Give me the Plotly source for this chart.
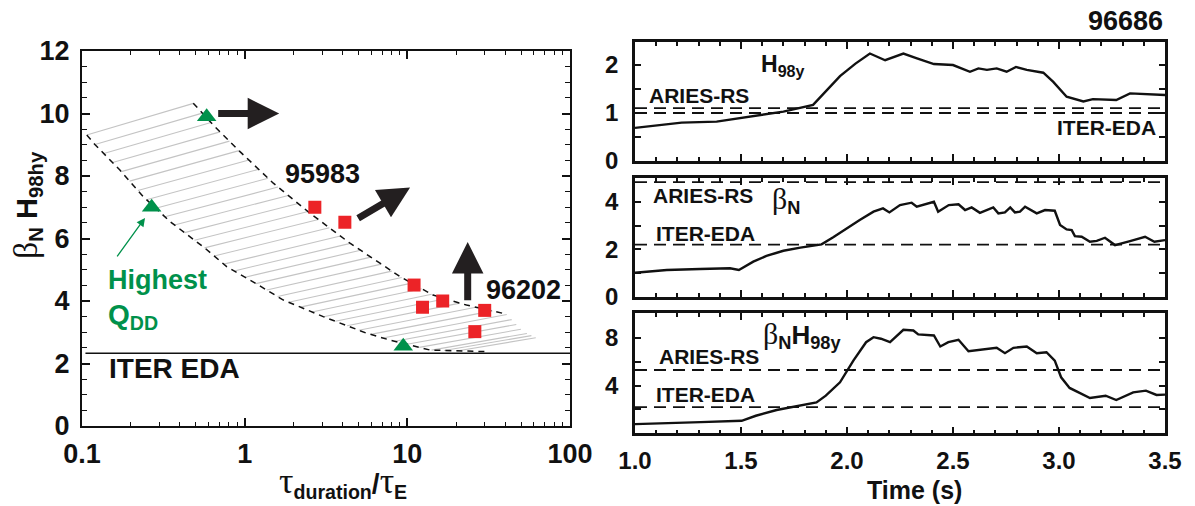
import numpy as np
import plotly.graph_objects as go

# ---------------- operating space: beta_N*H98 vs pulse length ----------------
tri_x = [0.584, 0.268, 9.44]                      # green triangles
tri_y = [9.9, 7.0, 2.55]
sq_x = [2.70, 4.13, 11.0, 12.4, 16.5, 29.9, 26.0]  # red squares
sq_y = [7.0, 6.52, 4.51, 3.80, 4.0, 3.70, 3.02]
iter_eda_level = 2.33

# lower / upper edges of the hatched band
edge_lo_x = [0.107, 0.120, 0.171, 0.238, 0.348, 0.570, 0.775, 1.08, 1.73, 3.04, 5.62, 7.82, 13.8, 20.1, 30.7]
edge_lo_y = [9.31, 9.01, 8.19, 7.34, 6.54, 5.69, 5.10, 4.67, 4.03, 3.50, 2.97, 2.75, 2.43, 2.40, 2.38]
edge_hi_x = [0.483, 0.641, 0.936, 1.50, 2.52, 4.44, 9.02, 14.4, 23.1, 40.7]
edge_hi_y = [10.33, 9.63, 8.78, 7.77, 6.81, 5.85, 4.78, 4.19, 3.87, 3.58]
band_tail_x = [51.5, 62.3]
band_tail_y = [3.02, 2.81]

# trend arrows (tail -> head)
arrow_tail_x = [0.673, 4.88, 23.5]
arrow_tail_y = [10.0, 6.62, 3.98]
arrow_head_x = [1.63, 10.4, 23.5]
arrow_head_y = [10.0, 7.63, 5.89]

# ---------------- discharge 96686 time traces ----------------
t_h98 = [1.0, 1.15, 1.22, 1.385, 1.54, 1.70, 1.84, 1.904, 1.967, 2.04, 2.108, 2.18, 2.203, 2.266,
         2.33, 2.41, 2.50, 2.58, 2.62, 2.66, 2.706, 2.753, 2.797, 2.848, 2.926, 2.973, 3.036,
         3.115, 3.16, 3.27, 3.335, 3.5]
h98 = [0.69, 0.77, 0.80, 0.82, 0.92, 1.03, 1.17, 1.48, 1.77, 2.03, 2.24, 2.10, 2.14, 2.24,
       2.14, 2.02, 2.00, 1.86, 1.93, 1.90, 1.93, 1.86, 1.96, 1.90, 1.84, 1.65, 1.34,
       1.24, 1.29, 1.27, 1.41, 1.375]

t_bn = [1.0, 1.15, 1.307, 1.448, 1.49, 1.558, 1.62, 1.70, 1.78, 1.88, 1.935, 1.998, 2.06, 2.125,
        2.17, 2.20, 2.25, 2.305, 2.329, 2.41, 2.43, 2.48, 2.526, 2.557, 2.588, 2.627, 2.69,
        2.714, 2.745, 2.77, 2.792, 2.816, 2.84, 2.895, 2.934, 2.98, 3.005, 3.036, 3.06, 3.075,
        3.107, 3.146, 3.178, 3.217, 3.264, 3.335, 3.406, 3.45, 3.5]
bn = [1.01, 1.13, 1.17, 1.20, 1.13, 1.48, 1.72, 1.94, 2.07, 2.21, 2.51, 2.89, 3.24, 3.59,
      3.73, 3.56, 3.87, 3.97, 3.80, 4.01, 3.59, 3.87, 3.90, 3.66, 3.77, 3.54, 3.77,
      3.52, 3.56, 3.77, 3.56, 3.59, 3.80, 3.52, 3.66, 3.63, 3.03, 2.84, 2.81, 2.56,
      2.53, 2.32, 2.36, 2.49, 2.18, 2.35, 2.53, 2.32, 2.39]

t_bnh = [1.0, 1.15, 1.31, 1.503, 1.57, 1.668, 1.78, 1.856, 1.90, 1.967, 2.03, 2.09, 2.125, 2.16,
         2.203, 2.266, 2.313, 2.336, 2.41, 2.44, 2.478, 2.526, 2.573, 2.627, 2.706, 2.745, 2.785,
         2.848, 2.895, 2.941, 2.98, 3.01, 3.05, 3.146, 3.22, 3.27, 3.35, 3.41, 3.46, 3.5]
bnh = [0.77, 0.88, 0.94, 1.05, 1.47, 1.95, 2.31, 2.59, 3.15, 4.27, 6.09, 7.63, 8.05, 7.92,
       7.63, 8.67, 8.61, 8.28, 8.19, 7.27, 7.63, 7.83, 6.87, 6.99, 7.16, 6.71, 7.16,
       7.27, 6.71, 6.79, 6.09, 4.69, 3.80, 2.96, 3.15, 2.79, 3.43, 3.57, 3.21, 3.24]

aries_rs = [1.1, 4.84, 5.3]   # H98y, beta_N, beta_N*H98y
iter_eda = [1.0, 2.2, 2.2]

# ---------------- layout geometry ----------------
W, H = 1195, 506


def fx(px):
    return px / W


def fy(py):
    return 1 - py / H


L_DOM_X = [fx(82), fx(570)]
L_DOM_Y = [fy(426), fy(51)]
R_DOM_X = [fx(635), fx(1165)]
R_DOMS_Y = [[fy(161), fy(42)], [fy(296.7), fy(178.3)], [fy(433.3), fy(313.3)]]

SANS = "Liberation Sans, Arial, Helvetica, sans-serif"
SERIF = "Liberation Serif"
GREEN = "#00914b"
RED = "#ec2327"
INK = "#111111"


def greek(ch, size=None):
    style = "font-family:%s;font-weight:normal" % SERIF
    if size:
        style += ";font-size:%dpx" % size
    return '<span style="%s">%s</span>' % (style, ch)


# ---------------- hatching of the band ----------------
dec_px = (L_DOM_X[1] - L_DOM_X[0]) * W / 3.0
unit_px = (L_DOM_Y[1] - L_DOM_Y[0]) * H / 12.0
k = unit_px / dec_px  # y-units -> decade-equivalent, so the plane is isotropic in pixels


def plane(xs, ys):
    return np.log10(np.asarray(xs, float)), np.asarray(ys, float) * k


lo_X, lo_Y = plane(edge_lo_x[:-1], edge_lo_y[:-1])
up_X, up_Y = plane(edge_hi_x + band_tail_x, edge_hi_y + band_tail_y)
# extend the upper edge a little at both ends
up_X = np.concatenate([[up_X[0] - 0.3 * (up_X[1] - up_X[0])], up_X, [up_X[-1] + 0.3 * (up_X[-1] - up_X[-2])]])
up_Y = np.concatenate([[up_Y[0] - 0.3 * (up_Y[1] - up_Y[0])], up_Y, [up_Y[-1] + 0.3 * (up_Y[-1] - up_Y[-2])]])

seg = np.hypot(np.diff(lo_X), np.diff(lo_Y))
arc = np.concatenate([[0], np.cumsum(seg)]) / seg.sum()

n_lines = 36
slope_first, slope_last = 0.297, 0.167
hx, hy = [], []
for s in np.linspace(0, 1, n_lines):
    px0 = np.interp(s, arc, lo_X)
    py0 = np.interp(s, arc, lo_Y)
    m = slope_first + (slope_last - slope_first) * s
    d = np.array([1.0, m])
    hit = None
    for i in range(len(up_X) - 1):
        a = np.array([up_X[i], up_Y[i]])
        b = np.array([up_X[i + 1], up_Y[i + 1]])
        M = np.array([[d[0], a[0] - b[0]], [d[1], a[1] - b[1]]])
        if abs(np.linalg.det(M)) < 1e-12:
            continue
        tt, ss = np.linalg.solve(M, a - np.array([px0, py0]))
        if tt > 0 and -1e-9 <= ss <= 1 + 1e-9:
            hit = (px0 + tt, py0 + tt * m)
            break
    if hit is None:
        continue
    hx += [10 ** px0, 10 ** hit[0], None]
    hy += [py0 / k, hit[1] / k, None]

fig = go.Figure()

fig.add_trace(go.Scatter(x=hx, y=hy, mode="lines", line=dict(color="#c4c4c4", width=1.1),
                         hoverinfo="skip", showlegend=False))
fig.add_trace(go.Scatter(x=edge_lo_x, y=edge_lo_y, mode="lines", line=dict(color=INK, width=1.5, dash="6px,5px"),
                         showlegend=False))
fig.add_trace(go.Scatter(x=edge_hi_x, y=edge_hi_y, mode="lines", line=dict(color=INK, width=1.5, dash="6px,5px"),
                         showlegend=False))
fig.add_trace(go.Scatter(x=[0.105, 100], y=[iter_eda_level, iter_eda_level], mode="lines",
                         line=dict(color=INK, width=1.4), showlegend=False))
fig.add_trace(go.Scatter(x=sq_x, y=sq_y, mode="markers",
                         marker=dict(symbol="square", size=13, color=RED), showlegend=False))
fig.add_trace(go.Scatter(x=tri_x, y=tri_y, mode="markers",
                         marker=dict(symbol="triangle-up", size=17, color=GREEN), showlegend=False))

# time traces
traces = [(t_h98, h98), (t_bn, bn), (t_bnh, bnh)]
for i, (tt, vv) in enumerate(traces):
    ax_id = str(i + 2)
    for lvl in (aries_rs[i], iter_eda[i]):
        fig.add_trace(go.Scatter(x=[1.0, 3.5], y=[lvl, lvl], mode="lines", xaxis="x" + ax_id, yaxis="y" + ax_id,
                                 line=dict(color=INK, width=1.8, dash="12px,7px"), showlegend=False))
    fig.add_trace(go.Scatter(x=tt, y=vv, mode="lines", xaxis="x" + ax_id, yaxis="y" + ax_id,
                             line=dict(color=INK, width=2.4), showlegend=False))

tick_l = dict(family=SANS, size=27, color=INK, weight="bold")
tick_r = dict(family=SANS, size=24, color=INK, weight="bold")

layout = dict(
    width=W, height=H, margin=dict(l=0, r=0, t=0, b=0, autoexpand=False),
    paper_bgcolor="white", plot_bgcolor="white", showlegend=False,
    xaxis=dict(domain=L_DOM_X, type="log", range=[-1, 2], tickvals=[0.1, 1, 10, 100],
               ticktext=["0.1", "1", "10", "100"], ticks="inside", ticklen=8, tickwidth=1.5,
               minor=dict(ticks="inside", ticklen=4, tickwidth=1.3, dtick="D1", tickcolor=INK),
               showline=True, linewidth=2, linecolor=INK, mirror="ticks", tickcolor=INK, automargin=False,
               showgrid=False, zeroline=False, tickfont=tick_l, ticklabelstandoff=3),
    yaxis=dict(domain=L_DOM_Y, range=[0, 12], dtick=2, ticks="inside", ticklen=8, tickwidth=1.5,
               minor=dict(ticks="inside", ticklen=5, tickwidth=1.3, dtick=0.5, tickcolor=INK),
               showline=True, linewidth=2, linecolor=INK, mirror="ticks", tickcolor=INK, automargin=False,
               showgrid=False, zeroline=False, tickfont=tick_l, ticklabelstandoff=5),
)

y_specs = [dict(range=[0, 2.48], tickvals=[0, 1, 2], minor_dtick=0.5),
           dict(range=[0, 5.0], tickvals=[0, 2, 4], minor_dtick=1),
           dict(range=[0, 10.05], tickvals=[4, 8], minor_dtick=2)]
for i in range(3):
    ax_id = str(i + 2)
    layout["xaxis" + ax_id] = dict(
        domain=R_DOM_X, anchor="y" + ax_id, range=[1.0, 3.5], dtick=0.5, tick0=1.0, tickformat=".1f",
        ticks="inside", ticklen=7, tickwidth=2, tickcolor=INK,
        minor=dict(ticks="inside", ticklen=4, tickwidth=1.6, dtick=0.1, tickcolor=INK),
        showline=True, linewidth=2.5, linecolor=INK, mirror="ticks", automargin=False,
        showgrid=False, zeroline=False, showticklabels=(i == 2), tickfont=tick_r, ticklabelstandoff=4)
    sp = y_specs[i]
    layout["yaxis" + ax_id] = dict(
        domain=R_DOMS_Y[i], anchor="x" + ax_id, range=sp["range"], tickvals=sp["tickvals"],
        ticks="inside", ticklen=6, tickwidth=2, tickcolor=INK,
        minor=dict(ticks="inside", ticklen=6, tickwidth=2, dtick=sp["minor_dtick"], tickcolor=INK),
        showline=True, linewidth=2.5, linecolor=INK, mirror="ticks", automargin=False,
        showgrid=False, zeroline=False, tickfont=tick_r, ticklabelstandoff=9)

fig.update_layout(**layout)

ann = []


def label(text, px, py, size, color=INK, xanchor="left", yanchor="middle", angle=0):
    ann.append(dict(text="<b>%s</b>" % text, x=fx(px), y=fy(py), xref="paper", yref="paper",
                    xanchor=xanchor, yanchor=yanchor, showarrow=False, textangle=angle,
                    font=dict(family=SANS, size=size, color=color)))


# left panel text
label("95983", 322, 174, 27, xanchor="center")
label("96202", 523, 290, 27, xanchor="center")
label("ITER EDA", 107, 368, 28)
label("Highest", 106, 280, 27, color=GREEN)
label("Q<sub>DD</sub>", 106, 316, 28, color=GREEN)
label(greek("β", 34) + "<sub>N</sub> H<sub>98hy</sub>", 27, 205, 29, xanchor="center", angle=-90)
label(greek("τ", 36) + "<sub>duration</sub>/" + greek("τ", 36) + "<sub>E</sub>", 343, 482, 28, xanchor="center")

# right panel text
label("96686", 1165, 21, 27, xanchor="right")
label("H<sub>98y</sub>", 759, 65, 23)
label("ARIES-RS", 647, 95, 21)
label("ITER-EDA", 1158, 128, 21, xanchor="right")
label("ARIES-RS", 651, 195, 21)
label(greek("β", 30) + "<sub>N</sub>", 770, 200, 26)
label("ITER-EDA", 654, 233, 21)
label(greek("β", 30) + "<sub>N</sub>H<sub>98y</sub>", 761, 335, 26)
label("ARIES-RS", 657, 356, 21)
label("ITER-EDA", 654, 394, 21)
label("Time (s)", 914, 490, 25, xanchor="center")

# green pointer to the highest-Q_DD shot
ann.append(dict(x=np.log10(0.244), y=6.66, ax=np.log10(0.162), ay=5.38, xref="x", yref="y", axref="x", ayref="y",
                text="", showarrow=True, arrowhead=2, arrowsize=1.3, arrowwidth=1.3, arrowcolor=GREEN))

# thick trend arrows
for tx, ty, hx_, hy_ in zip(arrow_tail_x, arrow_tail_y, arrow_head_x, arrow_head_y):
    ann.append(dict(x=np.log10(hx_), y=hy_, ax=np.log10(tx), ay=ty, xref="x", yref="y", axref="x", ayref="y",
                    text="", showarrow=True, arrowhead=2, arrowsize=0.9, arrowwidth=7, arrowcolor="#231f20"))

fig.update_layout(annotations=ann)
fig.write_html("out.html")
